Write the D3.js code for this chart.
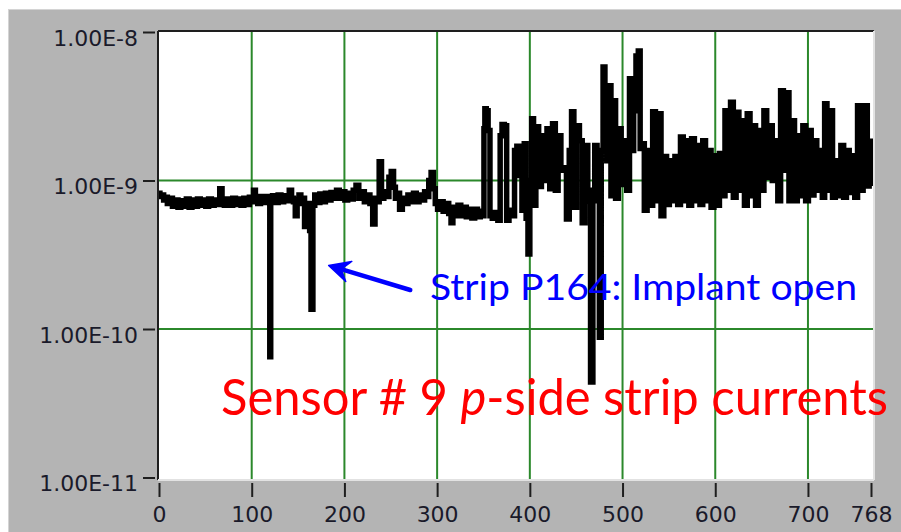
<!DOCTYPE html>
<html>
<head>
<meta charset="utf-8">
<script src="https://cdn.jsdelivr.net/npm/d3@7"></script>
<style>
  html, body { margin: 0; padding: 0; background: #ffffff; }
  svg { display: block; }
</style>
</head>
<body>
<svg id="chart" width="901" height="532"></svg>
<script>
// ---- data (current per strip, in nA) ----
const strips = [
  0,2,4,6,8,10,13,16,19,22,25,28,31,34,37,40,43,46,49,52,55,58,61,64,67,69,72,75,78,81,84,87,90,93,96,99,
  101,103,105,108,111,114,117,119,120,121,124,127,130,133,136,139,142,144,146,148,150,152,154,156,158,160,162,163,165,167,169,172,175,178,181,184,187,190,193,196,199,
  202,205,208,211,214,217,220,223,226,229,232,234,236,239,241,244,247,249,252,254,256,258,261,264,267,270,273,276,279,282,285,288,290,292,295,297,299,
  302,305,308,311,314,316,318,321,324,327,330,333,336,339,342,345,348,350,351,352,354,356,358,361,364,367,369,371,374,376,379,382,385,387,390,393,395,397,399,
  401,403,405,408,411,414,417,420,423,426,429,432,435,438,441,444,446,449,452,455,458,461,464,467,469,471,474,476,478,480,482,484,486,489,491,494,497,
  500,503,506,509,511,513,516,518,520,522,525,528,531,534,537,540,543,546,549,552,555,558,561,564,567,570,573,576,579,582,585,588,591,594,597,
  600,603,606,609,612,615,618,621,624,627,630,633,636,639,642,645,648,651,654,657,660,663,666,669,672,675,678,681,684,687,690,693,696,699,
  702,705,708,711,714,717,719,722,725,728,731,734,737,740,743,746,749,752,755,758,761,763,765,767,768
];
const currentNA = [
  0.82,0.78,0.80,0.74,0.77,0.70,0.76,0.67,0.74,0.66,0.73,0.67,0.75,0.66,0.74,0.67,0.75,0.68,0.74,0.67,0.75,0.68,0.74,0.69,0.88,0.73,0.68,0.75,0.68,0.76,0.69,0.75,0.68,0.76,0.69,0.77,
  0.72,0.86,0.76,0.70,0.78,0.71,0.78,0.72,0.065,0.74,0.79,0.71,0.80,0.72,0.79,0.73,0.86,0.76,0.72,0.58,0.74,0.80,0.70,0.76,0.49,0.556,0.70,0.46,0.136,0.68,0.80,0.71,0.81,0.72,0.82,0.74,0.83,0.76,0.86,0.76,0.84,
  0.74,0.82,0.75,0.86,0.93,0.76,0.84,0.72,0.80,0.70,0.51,0.76,0.72,1.34,0.76,0.84,0.78,1.05,1.15,0.90,0.76,0.82,0.64,0.76,0.70,0.80,0.72,0.82,0.72,0.80,0.74,0.84,0.78,1.00,1.13,0.88,0.70,
  0.64,0.72,0.62,0.70,0.60,0.52,0.66,0.58,0.68,0.58,0.66,0.57,0.64,0.56,0.64,0.57,0.62,0.58,2.23,3.04,2.95,2.17,0.58,0.556,0.61,0.54,2.00,2.38,2.34,0.54,0.63,0.58,1.59,1.70,1.08,0.63,1.77,0.556,0.32,
  1.00,2.61,0.68,2.30,0.91,2.00,1.00,2.23,0.88,2.41,0.86,2.00,1.17,1.22,0.55,1.59,2.90,0.66,2.34,1.85,0.52,1.72,0.73,0.044,0.86,1.72,0.73,0.088,1.59,5.82,3.44,1.36,4.35,0.79,3.44,0.76,2.23,
  0.94,1.85,0.86,4.84,1.59,2.95,6.90,7.45,1.64,1.77,0.63,1.59,0.68,2.90,0.73,2.82,0.58,1.45,0.69,1.36,0.73,1.45,0.69,1.96,0.73,1.85,0.68,1.91,0.73,1.72,0.69,1.85,0.73,1.59,0.66,
  1.47,0.68,1.52,0.79,2.95,0.86,3.36,0.77,2.88,0.86,2.53,0.68,2.82,0.79,2.34,0.68,2.17,0.86,2.95,1.05,2.34,1.00,1.85,0.73,4.02,1.17,3.90,0.73,2.53,0.73,2.00,0.79,2.34,0.73,
  2.17,0.80,1.85,0.86,1.59,0.77,3.29,0.86,2.95,0.77,1.36,0.79,1.72,0.77,1.59,0.83,1.47,0.77,3.19,0.86,1.85,3.19,0.92,1.84,0.92
];
const xTicks = [0,100,200,300,400,500,600,700,768];
const xGrid = [100,200,300,400,500,600,700];
const yTicks = [10,1,0.1,0.01];
const yTickLabels = ["1.00E-8","1.00E-9","1.00E-10","1.00E-11"];
const yGrid = [1,0.1];
const noteText = "Strip P164: Implant open";
const titleParts = ["Sensor # 9 ", "p", "-side strip currents"];
// arrow in data coordinates: [strip, nA]
const arrowTail = [271, 0.183];
const arrowTip = [183, 0.268];

// ---- layout ----
const svg = d3.select("#chart");
const W = 901, H = 532;
const plot = {left: 158, top: 31, right: 874, bottom: 480};

const x = d3.scaleLinear().domain([0, 768]).range([159, 871]);
const y = d3.scaleLog().domain([0.01, 10]).range([477.5, 32]);

svg.append("rect").attr("x",0).attr("y",0).attr("width",W).attr("height",H).attr("fill","#ffffff");
svg.append("rect").attr("x",8).attr("y",9).attr("width",W-8).attr("height",H-9).attr("fill","#b4b4b4");
svg.append("line").attr("x1",8).attr("x2",W).attr("y1",9.5).attr("y2",9.5).attr("stroke","#d4d4d4").attr("stroke-width",1);
svg.append("line").attr("x1",8.5).attr("x2",8.5).attr("y1",9).attr("y2",H).attr("stroke","#d4d4d4").attr("stroke-width",1);

// plot area
svg.append("rect").attr("x",plot.left).attr("y",plot.top)
  .attr("width",plot.right-plot.left).attr("height",plot.bottom-plot.top).attr("fill","#ffffff");

// grid
const gridColor = "#2b882b";
svg.append("g").selectAll("line").data(xGrid).join("line")
  .attr("x1",d=>x(d)).attr("x2",d=>x(d)).attr("y1",plot.top).attr("y2",plot.bottom)
  .attr("stroke",gridColor).attr("stroke-width",2);
svg.append("g").selectAll("line").data(yGrid).join("line")
  .attr("x1",plot.left).attr("x2",plot.right).attr("y1",d=>y(d)).attr("y2",d=>y(d))
  .attr("stroke",gridColor).attr("stroke-width",2);

// frame (3D inset look)
svg.append("line").attr("x1",plot.left).attr("x2",plot.right).attr("y1",plot.top).attr("y2",plot.top).attr("stroke","#1e1e1e").attr("stroke-width",2);
svg.append("line").attr("x1",plot.left).attr("x2",plot.left).attr("y1",plot.top).attr("y2",plot.bottom).attr("stroke","#1e1e1e").attr("stroke-width",2);
svg.append("line").attr("x1",plot.left).attr("x2",plot.right).attr("y1",plot.bottom).attr("y2",plot.bottom).attr("stroke","#e2e2e2").attr("stroke-width",2);
svg.append("line").attr("x1",plot.right).attr("x2",plot.right).attr("y1",plot.top).attr("y2",plot.bottom).attr("stroke","#e2e2e2").attr("stroke-width",2);

// data line
const data = strips.map((s,i)=>({s, v: currentNA[i]}));
const line = d3.line().x(d=>x(d.s)).y(d=>y(d.v)).curve(d3.curveStep);
svg.append("clipPath").attr("id","pc").append("rect")
  .attr("x",plot.left+1).attr("y",plot.top+1).attr("width",plot.right-plot.left-2).attr("height",plot.bottom-plot.top-2);
svg.append("path").datum(data).attr("d",line).attr("clip-path","url(#pc)")
  .attr("fill","none").attr("stroke","#000000").attr("stroke-width",5.5)
  .attr("stroke-linejoin","miter").attr("stroke-linecap","butt");

// axes
const fontAxis = "'DejaVu Sans', Verdana, sans-serif";
const yAxis = d3.axisLeft(y).tickValues(yTicks).tickFormat((d,i)=>yTickLabels[i]).tickSize(12).tickPadding(5);
const gy = svg.append("g").attr("transform","translate(155,0)").call(yAxis);
gy.select(".domain").remove();
gy.selectAll(".tick line").attr("stroke","#1e1e1e").attr("stroke-width",2);
gy.selectAll(".tick text").attr("font-family",fontAxis).attr("font-size",22).attr("fill","#1a1a2a")
  .attr("x",-17).attr("dy","0.42em").attr("y",4);

const xAxis = d3.axisBottom(x).tickValues(xTicks).tickFormat(d=>String(d)).tickSize(14).tickPadding(6);
const gx = svg.append("g").attr("transform","translate(0,483)").call(xAxis);
gx.select(".domain").remove();
gx.selectAll(".tick line").attr("stroke","#1e1e1e").attr("stroke-width",2);
gx.selectAll(".tick text").attr("font-family",fontAxis).attr("font-size",22).attr("fill","#1a1a2a")
  .attr("y",39).attr("dy","0");

// annotation arrow
const tip = [x(arrowTip[0]), y(arrowTip[1])];
const tail = [x(arrowTail[0]), y(arrowTail[1])];
const dx = tail[0]-tip[0], dy = tail[1]-tip[1];
const len = Math.hypot(dx,dy);
const ux = dx/len, uy = dy/len, px = -uy, py = ux;
const headLen = 21, headW = 10.5, notch = 13;
const bc = [tip[0]+ux*headLen, tip[1]+uy*headLen];
const nt = [tip[0]+ux*notch, tip[1]+uy*notch];
svg.append("line").attr("x1",nt[0]).attr("y1",nt[1]).attr("x2",tail[0]).attr("y2",tail[1])
  .attr("stroke","#0000ff").attr("stroke-width",4.5).attr("stroke-linecap","round");
svg.append("path").attr("d",
  `M${tip[0]},${tip[1]} L${bc[0]+px*headW},${bc[1]+py*headW} L${nt[0]},${nt[1]} L${bc[0]-px*headW},${bc[1]-py*headW} Z`)
  .attr("fill","#0000ff").attr("stroke","#0000ff").attr("stroke-width",1.5).attr("stroke-linejoin","round");

// annotation texts
const fontNote = "Lato, 'Open Sans', sans-serif";
svg.append("text").attr("x",430).attr("y",300).attr("font-family",fontNote).attr("font-size",36)
  .attr("fill","#0000ff").attr("textLength",427).attr("lengthAdjust","spacingAndGlyphs").text(noteText);

const t = svg.append("text").attr("x",221).attr("y",415).attr("font-family",fontNote).attr("font-size",50)
  .attr("fill","#ff0000").attr("textLength",667).attr("lengthAdjust","spacingAndGlyphs");
t.append("tspan").text(titleParts[0]);
t.append("tspan").attr("font-style","italic").text(titleParts[1]);
t.append("tspan").text(titleParts[2]);
</script>
</body>
</html>
